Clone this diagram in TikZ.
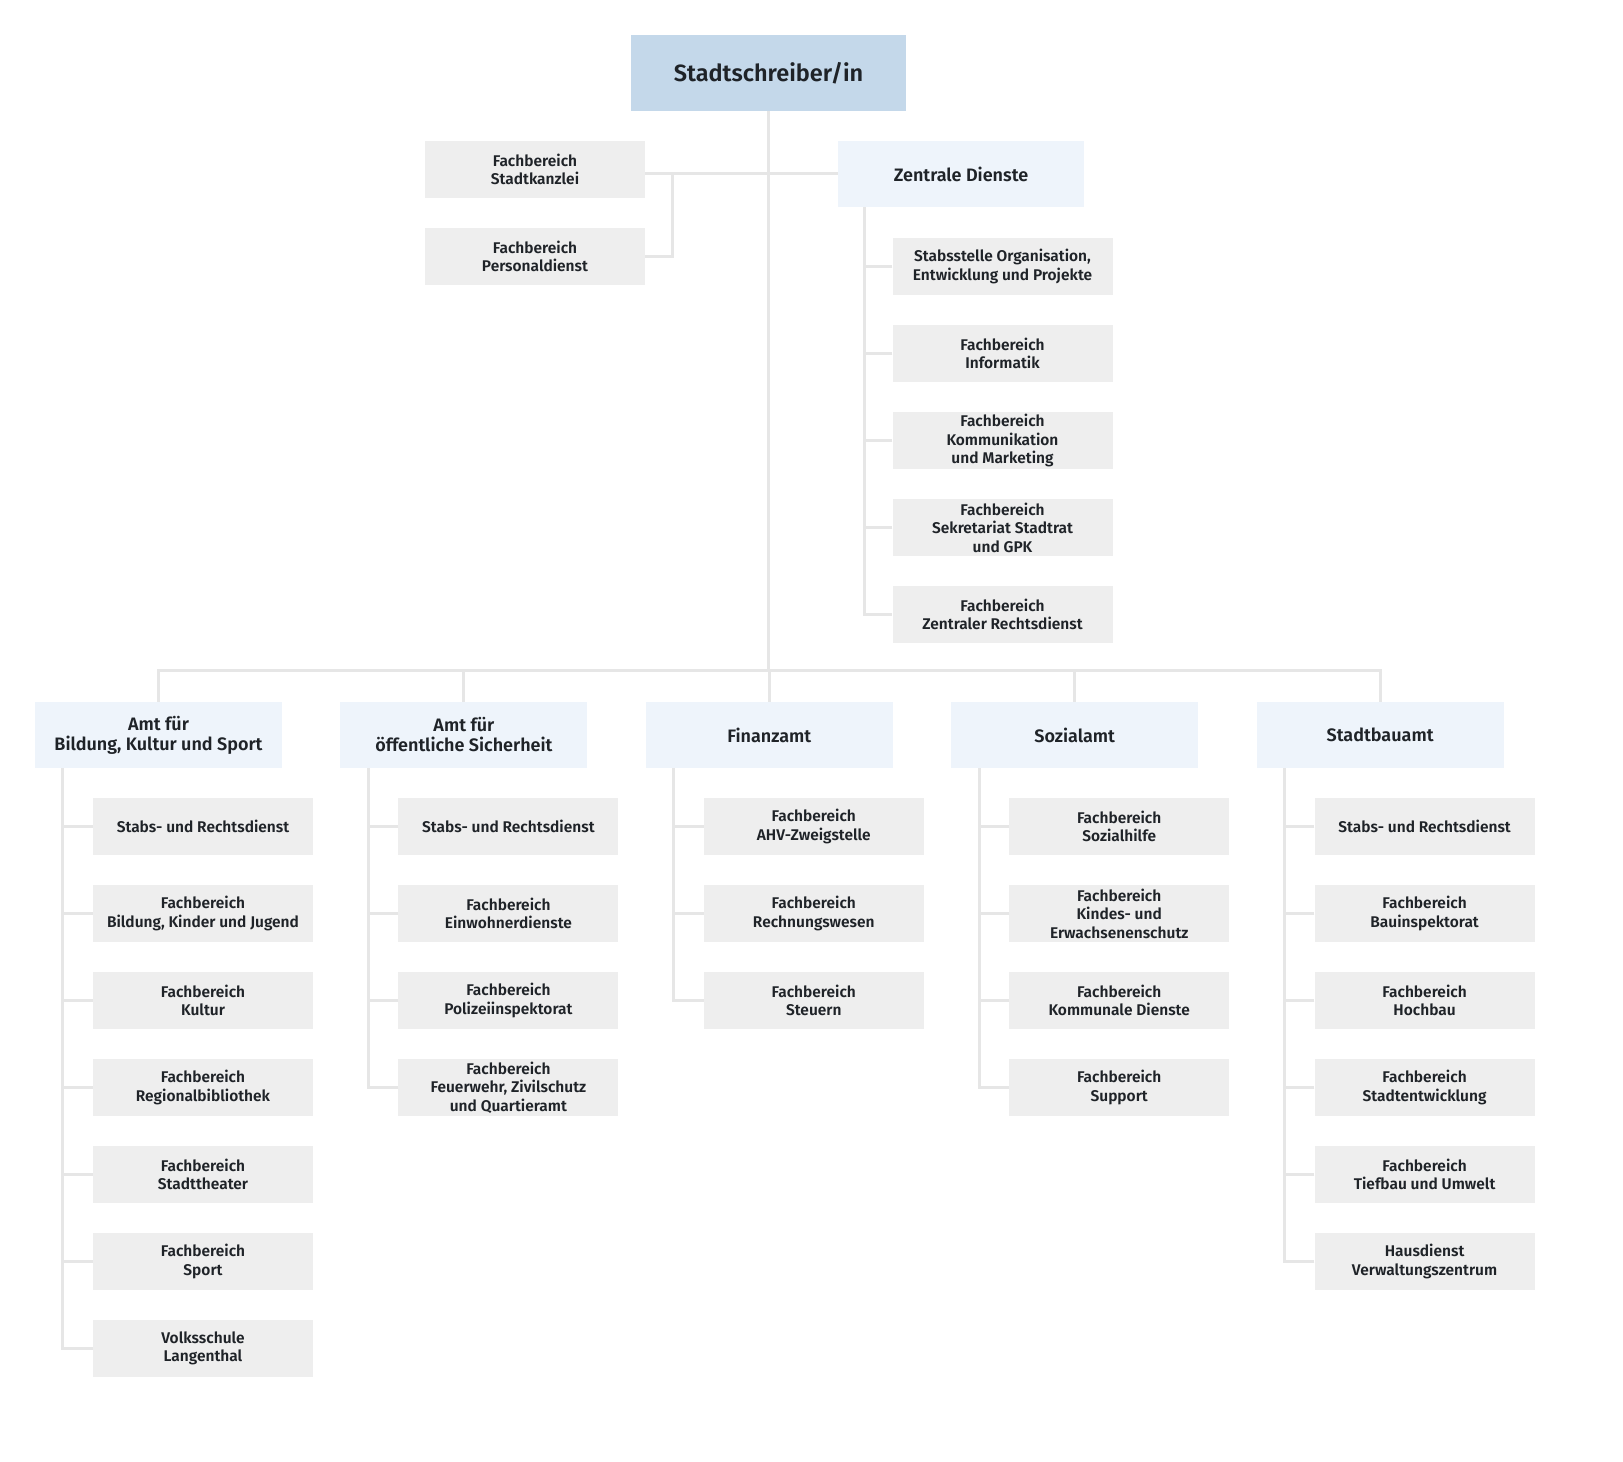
\documentclass[tikz,border=0pt]{standalone}
\usepackage{fontspec}
\setmainfont{Fira Sans}[BoldFont={Fira Sans SemiBold}]
\usetikzlibrary{positioning}

\definecolor{topblue}{HTML}{C4D8EA}
\definecolor{amblue}{HTML}{EEF4FB}
\definecolor{fbgray}{HTML}{EEEEEE}
\definecolor{linegray}{HTML}{E6E6E6}
\definecolor{txt}{HTML}{1F2328}

\begin{document}
\begin{tikzpicture}[x=1pt,y=-1pt,
  every node/.style={inner sep=0pt,text=txt},
  conn/.style={draw=linegray,line width=3pt},
  topbox/.style={fill=topblue,minimum width=275pt,minimum height=76pt,
    font=\fontsize{23.5}{27}\selectfont\bfseries},
  ambox/.style={fill=amblue,minimum width=247pt,minimum height=66pt,align=center,
    font=\fontsize{18}{20}\selectfont\bfseries},
  fbbox/.style={fill=fbgray,minimum width=220pt,minimum height=57pt,align=center,
    font=\fontsize{15.5}{18.5}\selectfont\bfseries}]
  \fill[white] (0,0) rectangle (1623,1462);

  % top
  \node[topbox] (root) at (768.5,73) {Stadtschreiber/in};
  \node[fbbox] (kanzlei) at (535,169.5) {Fachbereich\\Stadtkanzlei};
  \node[fbbox] (personal) at (535,256.5) {Fachbereich\\Personaldienst};
  \node[ambox,minimum width=246pt] (zentrale) at (961,174) {Zentrale Dienste};
  \coordinate (kbr) at (672,173);
  \coordinate (bus) at (768.5,670);

  \foreach \t [count=\i] in {{Stabsstelle Organisation,\\Entwicklung und Projekte},
      {Fachbereich\\Informatik}, {Fachbereich\\Kommunikation\\und Marketing},
      {Fachbereich\\Sekretariat Stadtrat\\und GPK}, {Fachbereich\\Zentraler Rechtsdienst}}
    \node[fbbox] (z\i) at (1002.5,179.5+87*\i) {\t};

  \draw[conn] (root.south) -- (bus);
  \draw[conn] (kanzlei.east |- kbr) -- (zentrale.west |- kbr);
  \draw[conn] (personal.east) -| (kbr);
  \coordinate (zline) at ([xshift=27pt]zentrale.south west);
  \draw[conn] (zline) |- (z5.west);
  \foreach \i in {1,...,4}
    \draw[conn] (z\i.west) -- (z\i.west -| zline);

  % departments
  \foreach \d/\t [count=\k from 0] in {bks/{Amt für\\Bildung, Kultur und Sport},
      oes/{Amt für\\öffentliche Sicherheit}, fin/Finanzamt, soz/Sozialamt, sba/Stadtbauamt}
    \node[ambox] (\d) at (158.5+305.4*\k,735) {\t};

  \draw[conn] (bks.north) |- (bus) -| (sba.north);
  \foreach \d in {oes,fin,soz}
    \draw[conn] (\d.north) -- (\d.north |- bus);

  \foreach \t [count=\j] in {Stabs- und Rechtsdienst, {Fachbereich\\Bildung, Kinder und Jugend},
      {Fachbereich\\Kultur}, {Fachbereich\\Regionalbibliothek}, {Fachbereich\\Stadttheater},
      {Fachbereich\\Sport}, {Volksschule\\Langenthal}}
    \node[fbbox] (bks\j) at ([shift={(44.5,4.5+87*\j)}]bks.center) {\t};
  \foreach \t [count=\j] in {Stabs- und Rechtsdienst, {Fachbereich\\Einwohnerdienste},
      {Fachbereich\\Polizeiinspektorat}, {Fachbereich\\Feuerwehr, Zivilschutz\\und Quartieramt}}
    \node[fbbox] (oes\j) at ([shift={(44.5,4.5+87*\j)}]oes.center) {\t};
  \foreach \t [count=\j] in {{Fachbereich\\AHV-Zweigstelle}, {Fachbereich\\Rechnungswesen},
      {Fachbereich\\Steuern}}
    \node[fbbox] (fin\j) at ([shift={(44.5,4.5+87*\j)}]fin.center) {\t};
  \foreach \t [count=\j] in {{Fachbereich\\Sozialhilfe}, {Fachbereich\\Kindes- und\\Erwachsenenschutz},
      {Fachbereich\\Kommunale Dienste}, {Fachbereich\\Support}}
    \node[fbbox] (soz\j) at ([shift={(44.5,4.5+87*\j)}]soz.center) {\t};
  \foreach \t [count=\j] in {Stabs- und Rechtsdienst, {Fachbereich\\Bauinspektorat},
      {Fachbereich\\Hochbau}, {Fachbereich\\Stadtentwicklung}, {Fachbereich\\Tiefbau und Umwelt},
      {Hausdienst\\Verwaltungszentrum}}
    \node[fbbox] (sba\j) at ([shift={(44.5,4.5+87*\j)}]sba.center) {\t};

  % side lines
  \foreach \d/\n in {bks/7,oes/4,fin/3,soz/4,sba/6} {
    \coordinate (\d line) at ([xshift=28pt]\d.south west);
    \draw[conn] (\d line) |- (\d\n.west);
    \foreach \j in {1,...,\n}
      \draw[conn] (\d\j.west) -- (\d\j.west -| \d line);
  }
  \pgfresetboundingbox
  \useasboundingbox (0,0) rectangle (1623,1462);
\end{tikzpicture}
\end{document}
